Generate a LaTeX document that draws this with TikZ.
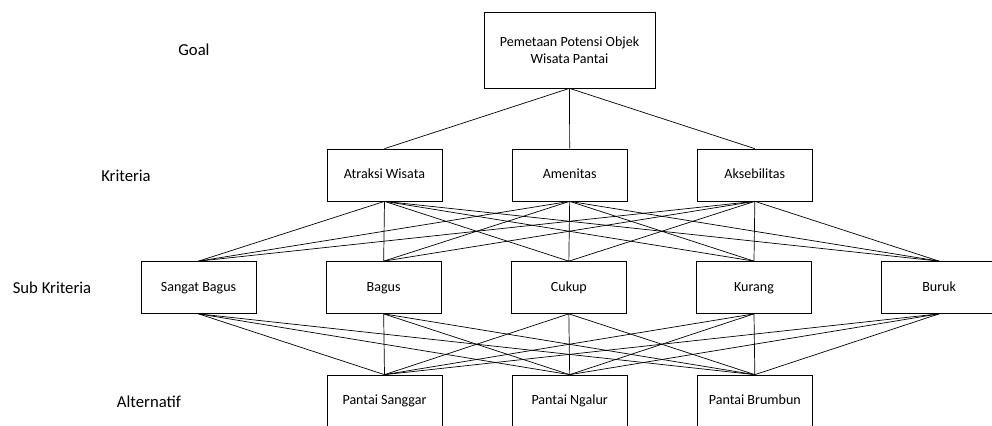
\documentclass[tikz,border=0pt]{standalone}
\usepackage{fontspec}
\setmainfont{Carlito}
\usetikzlibrary{positioning}
\tikzset{
  line width=0.6pt,
  node distance=1.39cm,
  box/.style={draw, minimum width=2.3cm, minimum height=1.04cm, inner sep=1pt, text height=6pt, text depth=1.8pt, font=\fontsize{8}{9.6}\selectfont},
  goalbox/.style={box, minimum width=3.42cm, minimum height=1.52cm, align=center, text height=, text depth=},
  level/.style={font=\fontsize{9.5}{11}\selectfont},
}

\begin{document}
\begin{tikzpicture}[x=0.02cm, y=-0.02cm]
		\useasboundingbox (0,0) rectangle (992,426);

		% levels
		\node[level] (lgoal) at (194,50) {Goal};
		\node[level] (lkrit) at (126,176) {Kriteria};
		\node[level] (lsub) at (52,288) {Sub Kriteria};
		\node[level] (lalt) at (149,402) {Alternatif};

		% goal
		\node[goalbox] (goal) at (569.5,50) {Pemetaan Potensi Objek\\Wisata Pantai};

		% kriteria
		\node[box] (atr) at (384.5,175) {Atraksi Wisata};
		\node[box, right=of atr] (amn) {Amenitas};
		\node[box, right=of amn] (aks) {Aksebilitas};

		% sub kriteria
		\node[box] (sb) at (198.5,287.5) {Sangat Bagus};
		\node[box, right=of sb] (bg) {Bagus};
		\node[box, right=of bg] (ck) {Cukup};
		\node[box, right=of ck] (kr) {Kurang};
		\node[box, right=of kr] (br) {Buruk};

		% alternatif
		\node[box] (sgr) at (384.5,401) {Pantai Sanggar};
		\node[box, right=of sgr] (ngl) {Pantai Ngalur};
		\node[box, right=of ngl] (brb) {Pantai Brumbun};

		% goal - kriteria
		\draw (goal.south) edge (atr.north)
		(goal.south) edge (amn.north)
		(goal.south) edge (aks.north);

		% kriteria - sub kriteria
		\draw (atr.south) edge (sb.north)
		(atr.south) edge (bg.north)
		(atr.south) edge (ck.north)
		(atr.south) edge (kr.north)
		(atr.south) edge (br.north)
		(amn.south) edge (sb.north)
		(amn.south) edge (bg.north)
		(amn.south) edge (ck.north)
		(amn.south) edge (kr.north)
		(amn.south) edge (br.north)
		(aks.south) edge (sb.north)
		(aks.south) edge (bg.north)
		(aks.south) edge (ck.north)
		(aks.south) edge (kr.north)
		(aks.south) edge (br.north);

		% sub kriteria - alternatif
		\draw (sb.south) edge (sgr.north)
		(sb.south) edge (ngl.north)
		(sb.south) edge (brb.north)
		(bg.south) edge (sgr.north)
		(bg.south) edge (ngl.north)
		(bg.south) edge (brb.north)
		(ck.south) edge (sgr.north)
		(ck.south) edge (ngl.north)
		(ck.south) edge (brb.north)
		(kr.south) edge (sgr.north)
		(kr.south) edge (ngl.north)
		(kr.south) edge (brb.north)
		(br.south) edge (sgr.north)
		(br.south) edge (ngl.north)
		(br.south) edge (brb.north);

	\end{tikzpicture}
\end{document}
